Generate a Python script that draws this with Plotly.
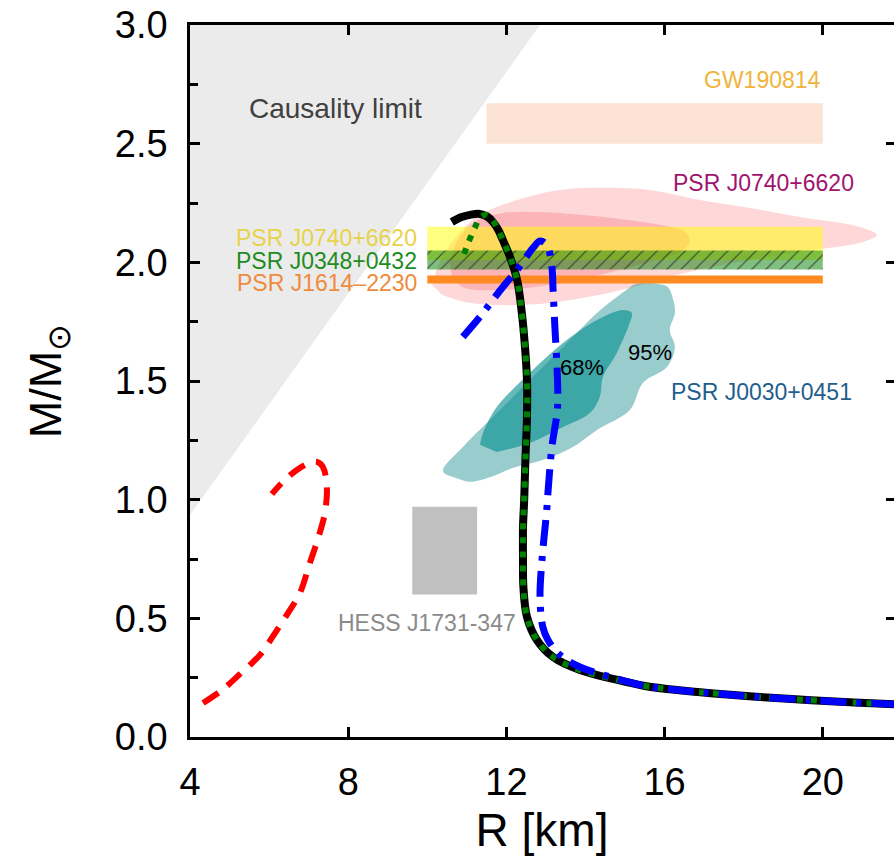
import plotly.graph_objects as go

# ---------------- data ----------------
# Causality limit line end points (R [km], M/Msun)
causality_R = [4.0, 12.85]
causality_M = [0.935, 3.0]

# Observational bands: R range and M range
gw_R = [11.5, 20.0]
gw_M = [2.50, 2.67]
j0740_band_R = [10.0, 20.0]
j0740_band_M = [2.01, 2.15]
j0348_band_R = [10.0, 20.0]
j0348_band_M = [1.97, 2.05]
j1614_band_R = [10.0, 20.0]
j1614_band_M = [1.911, 1.945]
hess_R = [9.62, 11.26]
hess_M = [0.60, 0.97]

# PSR J0740+6620 NICER contours
j0740_95_R = [10.12, 10.32, 10.77, 11.33, 12.27, 13.35, 14.54, 15.63, 16.89, 18.16, 19.42, 20.94,
              21.37, 20.94, 19.42, 17.90, 16.64, 15.38, 14.36, 13.10, 11.84, 10.95, 10.37]
j0740_95_M = [1.905, 2.002, 2.115, 2.200, 2.263, 2.305, 2.314, 2.305, 2.263, 2.229, 2.191, 2.149,
              2.115, 2.082, 2.044, 2.002, 1.960, 1.905, 1.863, 1.829, 1.820, 1.833, 1.863]
j0740_68_R = [10.57, 10.77, 11.20, 11.91, 12.85, 13.86, 14.87, 15.88, 16.51, 16.64, 16.39, 15.63,
              14.36, 13.10, 11.84, 10.95, 10.62]
j0740_68_M = [2.002, 2.094, 2.170, 2.208, 2.212, 2.200, 2.183, 2.158, 2.128, 2.086, 2.044, 2.002,
              1.947, 1.905, 1.884, 1.892, 1.934]

# PSR J0030+0451 NICER contours
j0030_95_R = [15.20, 15.45, 15.80, 16.08, 16.22, 16.26, 16.13, 16.26, 16.06, 15.45, 15.12, 14.29,
              13.68, 12.92, 12.17, 11.60, 11.08, 10.75, 10.40, 10.90, 11.76, 12.59, 13.43, 14.29, 14.79]
j0030_95_M = [1.905, 1.913, 1.910, 1.896, 1.840, 1.787, 1.715, 1.643, 1.559, 1.492, 1.378, 1.294,
              1.222, 1.167, 1.134, 1.095, 1.075, 1.090, 1.120, 1.222, 1.365, 1.504, 1.643, 1.787, 1.854]
j0030_68_R = [11.33, 11.41, 11.76, 12.59, 13.43, 14.29, 14.95, 15.17, 15.12, 14.79, 14.44, 14.36,
              14.11, 13.43, 12.59, 11.76]
j0030_68_M = [1.231, 1.281, 1.391, 1.534, 1.660, 1.757, 1.799, 1.787, 1.745, 1.618, 1.517, 1.433,
              1.365, 1.306, 1.239, 1.201]

# Mass-radius curves
black_R = [10.62, 10.85, 11.08, 11.33, 11.52, 11.66, 11.80, 11.91, 12.09, 12.27, 12.39, 12.47, 12.52,
           12.52, 12.48, 12.45, 12.42, 12.42, 12.43, 12.52, 12.77, 13.18, 13.86, 14.69, 15.50, 16.50,
           17.50, 18.60, 19.70, 20.80, 21.80]
black_M = [2.170, 2.190, 2.200, 2.204, 2.192, 2.170, 2.135, 2.094, 2.023, 1.926, 1.787, 1.643, 1.504,
           1.350, 1.167, 1.000, 0.885, 0.750, 0.632, 0.506, 0.409, 0.337, 0.282, 0.245, 0.215, 0.195,
           0.180, 0.166, 0.155, 0.145, 0.138]
green_R_start = [10.93, 11.03, 11.20, 11.33, 11.50, 11.66]
green_M_start = [2.035, 2.080, 2.145, 2.187, 2.200, 2.175]
blue_R = [10.90, 11.33, 11.89, 12.27, 12.67, 12.85, 13.02, 13.15, 13.18, 13.23, 13.28, 13.30, 13.28,
          13.15, 13.05, 13.02, 12.90, 12.85, 12.92, 13.05, 13.35, 13.86, 14.69, 15.50, 16.50, 17.50,
          18.60, 19.70, 20.80, 21.80]
blue_M = [1.686, 1.770, 1.892, 1.968, 2.060, 2.090, 2.073, 1.980, 1.884, 1.715, 1.559, 1.430, 1.365,
          1.222, 1.028, 0.957, 0.746, 0.590, 0.464, 0.409, 0.346, 0.295, 0.250, 0.215, 0.195, 0.180,
          0.166, 0.155, 0.145, 0.138]
red_R = [4.33, 4.81, 5.26, 5.77, 6.15, 6.48, 6.78, 7.03, 7.24, 7.41, 7.46, 7.36, 7.21, 7.03, 6.70,
         6.35, 6.07]
red_M = [0.143, 0.198, 0.265, 0.346, 0.438, 0.523, 0.607, 0.733, 0.838, 0.944, 1.054, 1.138, 1.159,
         1.155, 1.125, 1.075, 1.024]

# Axis settings
x_range = [4, 21.8]
y_range = [0, 3]
x_ticks = [4, 8, 12, 16, 20]
y_ticks = [0.0, 0.5, 1.0, 1.5, 2.0, 2.5, 3.0]

FONT = "Liberation Sans, Arial, sans-serif"

fig = go.Figure()


def rect(Rr, Mr):
    return ([Rr[0], Rr[1], Rr[1], Rr[0], Rr[0]], [Mr[0], Mr[0], Mr[1], Mr[1], Mr[0]])


def filled(x, y, color, spline=False, **kw):
    fig.add_trace(go.Scatter(x=x, y=y, fill="toself", fillcolor=color, mode="lines",
                             line=dict(width=0, color=color, shape="spline" if spline else "linear"),
                             hoverinfo="skip", showlegend=False, **kw))


# causality region
filled([causality_R[0], causality_R[1], causality_R[0]],
       [causality_M[0], causality_M[1], causality_M[1]], "#EBEBEB")
# GW190814
gx, gy = rect(gw_R, gw_M)
filled(gx, gy, "#FCE3D4")
# PSR J0740 contours
filled(j0740_95_R, j0740_95_M, "rgba(250,100,100,0.25)", spline=True)
filled(j0740_68_R, j0740_68_M, "rgba(245,100,110,0.30)", spline=True)
# PSR J0030 contours
filled(j0030_95_R, j0030_95_M, "rgba(0,128,128,0.40)", spline=True)
filled(j0030_68_R, j0030_68_M, "rgba(0,140,140,0.60)", spline=True)
# bands
yx, yy = rect(j0740_band_R, j0740_band_M)
filled(yx, yy, "rgba(255,255,0,0.5)")
gx2, gy2 = rect(j0348_band_R, j0348_band_M)
fig.add_trace(go.Scatter(x=gx2, y=gy2, fill="toself", fillcolor="rgba(0,128,0,0.5)", mode="lines",
                         line=dict(width=0), hoverinfo="skip", showlegend=False,
                         fillpattern=dict(shape="/", fgcolor="rgba(40,40,40,0.85)",
                                          bgcolor="rgba(0,128,0,0.5)", size=10, solidity=0.1,
                                          fillmode="replace")))
ox, oy = rect(j1614_band_R, j1614_band_M)
filled(ox, oy, "#FF8A22")
hx, hy = rect(hess_R, hess_M)
filled(hx, hy, "#C0C0C0")

# curves
fig.add_trace(go.Scatter(x=red_R, y=red_M, mode="lines", hoverinfo="skip", showlegend=False,
                         line=dict(color="#FF0000", width=6, dash="18px,12px", shape="spline")))
fig.add_trace(go.Scatter(x=black_R, y=black_M, mode="lines", hoverinfo="skip", showlegend=False,
                         line=dict(color="#000000", width=8, shape="spline")))
fig.add_trace(go.Scatter(x=green_R_start + black_R[6:], y=green_M_start + black_M[6:], mode="lines",
                         hoverinfo="skip", showlegend=False,
                         line=dict(color="#008000", width=6, dash="6px,8px", shape="spline")))
fig.add_trace(go.Scatter(x=blue_R, y=blue_M, mode="lines", hoverinfo="skip", showlegend=False,
                         line=dict(color="#0000FF", width=7, dash="26px,10px,5px,10px", shape="spline")))
# right axis (ticks only)
fig.add_trace(go.Scatter(x=[], y=[], yaxis="y2", showlegend=False, hoverinfo="skip"))

# text labels
def label(text, x, y, color, size=23, anchor="center"):
    fig.add_annotation(x=x, y=y, text=text, showarrow=False, xanchor=anchor, yanchor="middle",
                       font=dict(family=FONT, size=size, color=color))

label("Causality limit", 7.69, 2.65, "#404040", size=28)
label("GW190814", 20.0, 2.77, "#F0B43C", anchor="right")
label("PSR J0740+6620", 20.85, 2.335, "#A0146E", anchor="right")
label("PSR J0740+6620", 9.78, 2.103, "#E8D24A", anchor="right")
label("PSR J0348+0432", 9.78, 2.006, "#1E8C1E", anchor="right")
label("PSR J1614–2230", 9.78, 1.913, "#F08A3C", anchor="right")
label("68%", 13.91, 1.559, "#000000", size=22)
label("95%", 15.63, 1.622, "#000000", size=22)
label("PSR J0030+0451", 18.46, 1.454, "#1F5E8C")
label("HESS J1731-347", 12.30, 0.48, "#8A8A8A", anchor="right")

axis_common = dict(showgrid=False, zeroline=False, showline=True, linecolor="black", linewidth=2.5,
                   ticks="inside", tickcolor="black", tickwidth=2.5, ticklen=10,
                   tickfont=dict(family=FONT, size=38, color="black"))

fig.update_layout(
    width=894, height=856,
    margin=dict(l=190, r=0, t=25, b=119),
    paper_bgcolor="white", plot_bgcolor="white",
    xaxis=dict(range=x_range, tickvals=x_ticks, mirror="ticks", ticklabelstandoff=10,
               title=dict(text="R [km]", font=dict(family=FONT, size=46, color="black"), standoff=18),
               **axis_common),
    yaxis=dict(range=y_range, tickvals=y_ticks, ticktext=[f"{v:.1f}" for v in y_ticks],
               mirror=False, ticklabelstandoff=12,
               minor=dict(dtick=0.25, ticks="inside", ticklen=8, tickwidth=2.5, tickcolor="black"),
               title=dict(text="M/M<sub>⊙</sub>", font=dict(family=FONT, size=45, color="black"),
                          standoff=40),
               **axis_common),
    yaxis2=dict(range=y_range, overlaying="y", side="right", showline=False, showgrid=False,
                zeroline=False, tickvals=y_ticks, ticks="inside", ticklen=8, tickwidth=2.5,
                tickcolor="black", showticklabels=False),
)

fig.write_html("out.html")
